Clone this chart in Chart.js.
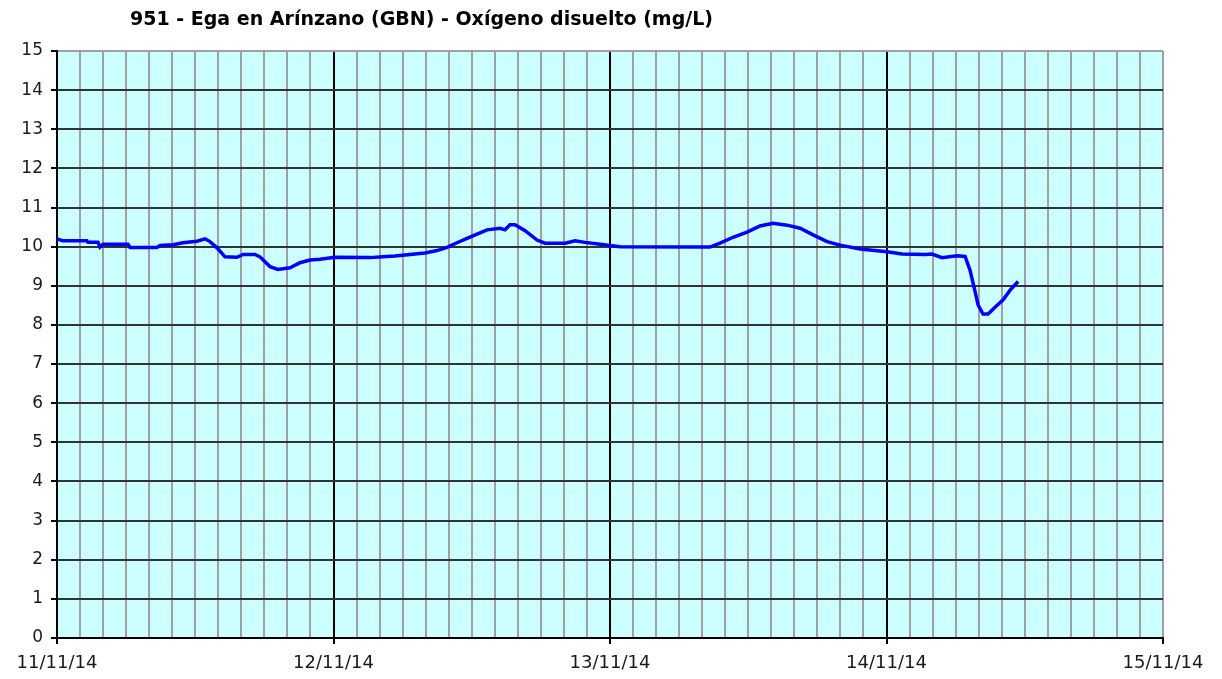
<!DOCTYPE html>
<html>
<head>
<meta charset="utf-8">
<title>951 - Ega en Arínzano (GBN) - Oxígeno disuelto (mg/L)</title>
<script src="https://cdn.jsdelivr.net/npm/chart.js@4.4.1/dist/chart.umd.min.js"></script>
<style>
  html, body { margin: 0; padding: 0; background: #ffffff; }
  #wrap { width: 1222px; height: 679px; position: relative; }
</style>
</head>
<body>
<div id="wrap"><canvas id="chart" width="1222" height="679"></canvas></div>
<script>
// Station title
const titleText = '951 - Ega en Arínzano (GBN) - Oxígeno disuelto (mg/L)';

// Hours elapsed since 11/11/14 00:00
const hours = [
  0, 0.52, 2.60, 2.69, 3.56, 3.73, 3.99, 6.16, 6.34, 8.68,
  8.94, 10.07, 10.94, 12.15, 12.85, 13.28, 13.89, 14.58, 15.63, 16.15,
  17.19, 17.62, 18.49, 19.18, 20.23, 21.09, 21.96, 22.83, 24.13, 27.17,
  28.30, 29.34, 30.64, 31.94, 32.99, 33.85, 34.72, 35.59, 36.46, 37.33,
  38.46, 38.89, 39.32, 39.76, 40.63, 41.67, 42.36, 44.10, 44.97, 45.83,
  47.14, 48.87, 56.68, 57.55, 58.68, 59.90, 61.02, 62.15, 63.37, 64.50,
  65.63, 66.84, 67.97, 69.70, 72.05, 73.35, 75.35, 75.95, 76.82, 78.13,
  78.82, 79.25, 79.69, 79.95, 80.38, 80.82, 81.42, 82.12, 82.73, 83.42
];

// Dissolved oxygen (mg/L)
const oxygen = [
  10.20, 10.15, 10.15, 10.11, 10.11, 9.99, 10.06, 10.06, 9.98, 9.98,
  10.03, 10.05, 10.10, 10.14, 10.20, 10.13, 9.97, 9.74, 9.73, 9.80,
  9.80, 9.74, 9.49, 9.42, 9.46, 9.59, 9.66, 9.68, 9.73, 9.72,
  9.74, 9.76, 9.80, 9.84, 9.90, 9.98, 10.10, 10.21, 10.32, 10.43,
  10.47, 10.43, 10.56, 10.56, 10.41, 10.17, 10.09, 10.09, 10.15, 10.11,
  10.06, 10.00, 9.99, 10.09, 10.24, 10.37, 10.53, 10.60, 10.55, 10.47,
  10.30, 10.13, 10.04, 9.94, 9.87, 9.81, 9.80, 9.81, 9.72, 9.77,
  9.75, 9.40, 8.85, 8.51, 8.28, 8.28, 8.45, 8.64, 8.89, 9.11
];

// Axis settings
const dayLabels = ['11/11/14', '12/11/14', '13/11/14', '14/11/14', '15/11/14'];
const xMax = 96;     // hours shown
const xStep = 2;     // vertical grid every 2 h
const yMin = 0, yMax = 15, yStep = 1;

const points = hours.map((h, i) => ({ x: h, y: oxygen[i] }));

const FONT = 'DejaVu Sans, Verdana, sans-serif';

const plotBackground = {
  id: 'plotBackground',
  beforeDraw(chart) {
    const { ctx, chartArea: a } = chart;
    ctx.save();
    ctx.fillStyle = '#ccffff';
    ctx.fillRect(a.left, a.top, a.right - a.left, a.bottom - a.top);
    ctx.restore();
  }
};

const headerTitle = {
  id: 'headerTitle',
  afterDraw(chart) {
    const { ctx } = chart;
    ctx.save();
    ctx.font = 'bold 19px ' + FONT;
    ctx.fillStyle = '#000000';
    ctx.textBaseline = 'middle';
    ctx.textAlign = 'left';
    ctx.fillText(titleText, 130, 20);
    ctx.restore();
  }
};

new Chart(document.getElementById('chart'), {
  type: 'line',
  data: {
    datasets: [{
      data: points,
      borderColor: '#0000ff',
      borderWidth: 3.5,
      pointRadius: 0,
      tension: 0,
      fill: false
    }]
  },
  options: {
    responsive: false,
    animation: false,
    events: [],
    layout: { padding: { top: 51, right: 59, bottom: 0, left: 0 } },
    plugins: {
      legend: { display: false },
      title: { display: false },
      tooltip: { enabled: false }
    },
    scales: {
      x: {
        type: 'linear',
        min: 0,
        max: xMax,
        afterFit(scale) { scale.height = 41; },
        ticks: {
          stepSize: xStep,
          autoSkip: false,
          maxRotation: 0,
          minRotation: 0,
          padding: 9,
          color: '#1a1a1a',
          font: { family: FONT, size: 18 },
          callback(v) {
            return v % 24 === 0 ? dayLabels[v / 24] : '';
          }
        },
        grid: {
          lineWidth: 2,
          tickLength: 6,
          color(ctx) {
            const v = ctx.tick ? ctx.tick.value : 0;
            if (v === xMax) return '#a0a0a0';
            return v % 24 === 0 ? '#000000' : '#a0a0a0';
          },
          tickColor(ctx) {
            const v = ctx.tick ? ctx.tick.value : 0;
            return v % 24 === 0 ? '#000000' : 'rgba(0,0,0,0)';
          }
        },
        border: { color: '#000000', width: 2 }
      },
      y: {
        type: 'linear',
        min: yMin,
        max: yMax,
        afterFit(scale) { scale.width = 57; },
        ticks: {
          stepSize: yStep,
          padding: 8,
          color: '#1a1a1a',
          font: { family: FONT, size: 17 }
        },
        grid: {
          lineWidth: 2,
          tickLength: 6,
          color(ctx) {
            const v = ctx.tick ? ctx.tick.value : 0;
            return v === yMax ? '#a0a0a0' : '#333333';
          },
          tickColor: '#000000'
        },
        border: { color: '#000000', width: 2 }
      }
    }
  },
  plugins: [plotBackground, headerTitle]
});
</script>
</body>
</html>
